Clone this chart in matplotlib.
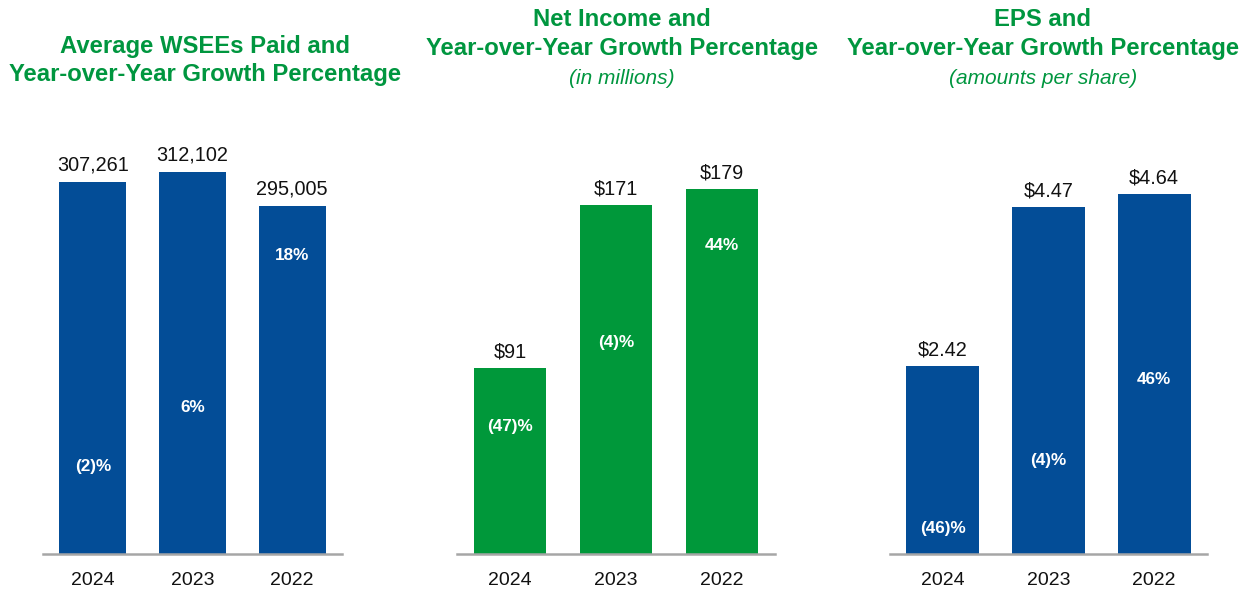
import matplotlib
matplotlib.use("Agg")
import matplotlib.pyplot as plt

plt.rcParams['font.family'] = ['Liberation Sans', 'DejaVu Sans']

years = ['2024', '2023', '2022']

wsee = [307261, 312102, 295005]
wsee_labels = ['307,261', '312,102', '295,005']
wsee_growth = ['(2)%', '6%', '18%']

net_income = [91, 171, 179]
ni_labels = ['$91', '$171', '$179']
ni_growth = ['(47)%', '(4)%', '44%']

eps = [2.42, 4.47, 4.64]
eps_labels = ['$2.42', '$4.47', '$4.64']
eps_growth = ['(46)%', '(4)%', '46%']

BLUE = '#034D97'
GREEN = '#00983A'
TITLE_GREEN = '#00963F'

W, H = 1250, 595
fig = plt.figure(figsize=(W / 100, H / 100), dpi=100)


def px_rect(x0, x1, ytop, ybot):
    return [x0 / W, 1 - ybot / H, (x1 - x0) / W, (ybot - ytop) / H]


def panel(rect, vals, labels, growth, growth_y, color, ylim, width):
    ax = fig.add_axes(rect)
    xs = range(len(vals))
    ax.bar(xs, [v - ylim[0] for v in vals], bottom=ylim[0], width=width, color=color)
    ax.set_xlim(-0.5, len(vals) - 0.5)
    ax.set_ylim(*ylim)
    for x, v, lab in zip(xs, vals, labels):
        ax.annotate(lab, (x, v), xytext=(0, 5), textcoords='offset points',
                    ha='center', va='bottom', fontsize=14.3, color='#111111')
    for x, g, gy in zip(xs, growth, growth_y):
        ax.text(x, gy, g, ha='center', va='center', fontsize=12.3,
                fontweight='bold', color='white')
    for s in ['top', 'right', 'left']:
        ax.spines[s].set_visible(False)
    ax.spines['bottom'].set_color('#A6A6A6')
    ax.spines['bottom'].set_linewidth(1.8)
    ax.set_yticks([])
    ax.set_xticks(list(xs))
    ax.set_xticklabels(years, fontsize=14, color='#111111')
    ax.tick_params(axis='x', length=0, pad=13)
    return ax


# panel 1: axis starts at 120,000
lo1 = 120000
top1 = lo1 + (554 - 100) / 0.001989
panel(px_rect(43, 342, 100, 554), wsee, wsee_labels, wsee_growth,
      [lo1 + (554 - 466) / 0.001989, lo1 + (554 - 408) / 0.001989, lo1 + (554 - 255) / 0.001989],
      BLUE, (lo1, top1), 0.67)

s2 = 365 / 179
panel(px_rect(457, 775, 100, 554), net_income, ni_labels, ni_growth,
      [(554 - 426) / s2, (554 - 342) / s2, (554 - 246) / s2],
      GREEN, (0, 454 / s2), 0.68)

s3 = 360 / 4.64
panel(px_rect(890, 1207, 100, 554), eps, eps_labels, eps_growth,
      [(554 - 528) / s3, (554 - 460) / s3, (554 - 380) / s3],
      BLUE, (0, 454 / s3), 0.69)

tkw = dict(ha='center', va='center', color=TITLE_GREEN, fontsize=17.2, fontweight='bold')
ikw = dict(ha='center', va='center', color=TITLE_GREEN, fontsize=15, style='italic')

fig.text(205 / W, 1 - 47 / H, 'Average WSEEs Paid and', **tkw)
fig.text(205 / W, 1 - 75 / H, 'Year-over-Year Growth Percentage', **tkw)

fig.text(622 / W, 1 - 20 / H, 'Net Income and', **tkw)
fig.text(622 / W, 1 - 49 / H, 'Year-over-Year Growth Percentage', **tkw)
fig.text(622 / W, 1 - 78 / H, '(in millions)', **ikw)

fig.text(1043 / W, 1 - 20 / H, 'EPS and', **tkw)
fig.text(1043 / W, 1 - 49 / H, 'Year-over-Year Growth Percentage', **tkw)
fig.text(1043 / W, 1 - 78 / H, '(amounts per share)', **ikw)

fig.savefig('out.png', dpi=100)
